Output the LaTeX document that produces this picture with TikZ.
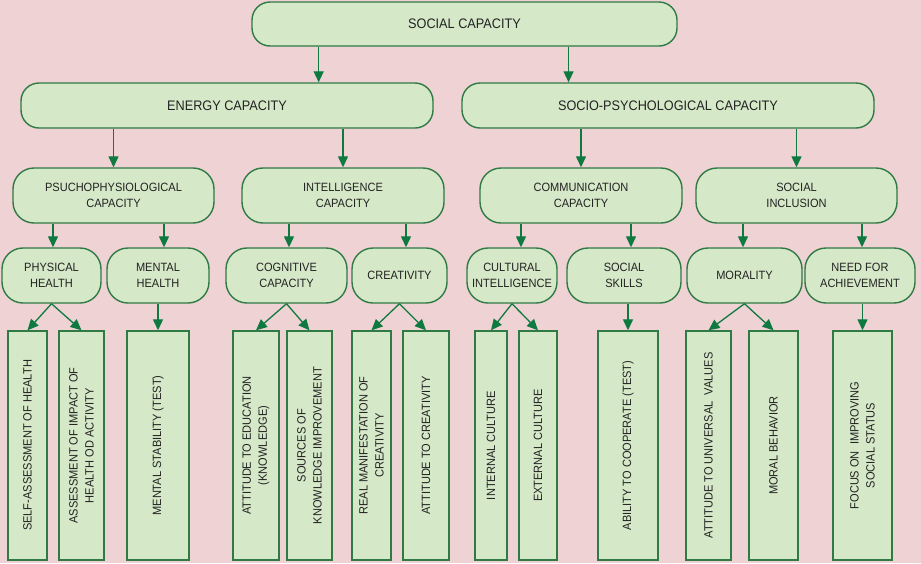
\documentclass[tikz,border=0pt]{standalone}
\usepackage{fontspec}
\setmainfont{Liberation Sans}[FakeStretch=0.92]
\usetikzlibrary{arrows.meta,calc}
\definecolor{bgpink}{HTML}{EFD2D4}
\definecolor{boxgreen}{HTML}{D5E8C8}
\definecolor{edgegreen}{HTML}{2F7A45}
\definecolor{arrowgreen}{HTML}{0E7A40}
\definecolor{textgray}{HTML}{222222}
\tikzset{
  capsule/.style={
    draw=edgegreen,
    fill=boxgreen,
    line width=1.4pt,
    rounded corners=21pt,
    align=center,
    text=textgray,
    inner sep=2pt,
    font=\fontsize{12}{16}\selectfont
  },
  topcapsule/.style={
    capsule,
    rounded corners=18pt,
    font=\fontsize{13.8}{16}\selectfont
  },
  leaf/.style={
    draw=edgegreen,
    fill=boxgreen,
    line width=1.4pt,
    rotate=90,
    align=center,
    text=textgray,
    inner sep=1pt,
    minimum width=229pt,
    font=\fontsize{12}{16}\selectfont
  },
  flowarrow/.style={
    -{Triangle[length=11pt,width=10pt]},
    line width=1.3pt,
    draw=arrowgreen
  }
}
\begin{document}
\begin{tikzpicture}[x=1pt,y=-1pt]
    \fill[bgpink] (0,0) rectangle (921,563);
    \node[topcapsule, minimum width=425pt, minimum height=44pt] (soc) at (464.5,24) {SOCIAL CAPACITY};
    \node[topcapsule, minimum width=412pt, minimum height=45pt] (energy) at (227,105.5) {ENERGY CAPACITY};
    \node[topcapsule, minimum width=412pt, minimum height=45pt] (socpsy) at (668,105.5) {SOCIO-PSYCHOLOGICAL CAPACITY};
    \node[capsule, minimum width=201pt, minimum height=55pt] (psycho) at (113.5,195.5) {PSUCHOPHYSIOLOGICAL\\CAPACITY};
    \node[capsule, minimum width=202pt, minimum height=55pt] (intel) at (343,195.5) {INTELLIGENCE\\CAPACITY};
    \node[capsule, minimum width=202pt, minimum height=55pt] (comm) at (581,195.5) {COMMUNICATION\\CAPACITY};
    \node[capsule, minimum width=201pt, minimum height=55pt] (incl) at (796.5,195.5) {SOCIAL\\INCLUSION};
    \node[capsule, minimum width=99pt, minimum height=55pt] (phys) at (51.5,275.5) {PHYSICAL\\HEALTH};
    \node[capsule, minimum width=102pt, minimum height=55pt] (mental) at (158,275.5) {MENTAL\\HEALTH};
    \node[capsule, minimum width=121pt, minimum height=55pt] (cogn) at (286.5,275.5) {COGNITIVE\\CAPACITY};
    \node[capsule, minimum width=95pt, minimum height=55pt] (creat) at (399.5,275.5) {CREATIVITY};
    \node[capsule, minimum width=90pt, minimum height=55pt] (cult) at (512,275.5) {CULTURAL\\INTELLIGENCE};
    \node[capsule, minimum width=114pt, minimum height=55pt] (skills) at (624,275.5) {SOCIAL\\SKILLS};
    \node[capsule, minimum width=115pt, minimum height=55pt] (moral) at (744.5,275.5) {MORALITY};
    \node[capsule, minimum width=110pt, minimum height=55pt] (need) at (860,275.5) {NEED FOR\\ACHIEVEMENT};
    \foreach \n/\x/\w/\t in {b1/27.5/39/{SELF-ASSESSMENT OF HEALTH},
        b2/81.5/45/{ASSESSMENT OF IMPACT OF\\HEALTH OD ACTIVITY},
        b3/158/62/{MENTAL STABILITY (TEST)},
        b4/256/46/{ATTITUDE TO EDUCATION\\(KNOWLEDGE)},
        b5/309.5/45/{SOURCES OF\\KNOWLEDGE IMPROVEMENT},
        b6/371.5/39/{REAL MANIFESTATION OF\\CREATIVITY},
        b7/426/46/{ATTITUDE TO CREATIVITY},
        b8/491/32/{INTERNAL CULTURE},
        b9/538/38/{EXTERNAL CULTURE},
        b10/628/60/{ABILITY TO COOPERATE (TEST)},
        b11/708.5/45/{ATTITUDE TO UNIVERSAL\ \ VALUES},
        b12/773.5/49/{MORAL BEHAVIOR},
        b13/862.5/59/{FOCUS ON\ \ IMPROVING\\SOCIAL STATUS}}
      \node[leaf, minimum height=\w pt] (\n) at (\x,445.5) {\t};
    \path ($(soc.south west)!.158!(soc.south east)$) coordinate (sl)
          ($(soc.south west)!.744!(soc.south east)$) coordinate (sr);
    \draw[flowarrow] (sl) -- (sl |- energy.north);
    \draw[flowarrow] (sr) -- (sr |- socpsy.north);
    \foreach \a/\b in {energy/psycho,energy/intel,socpsy/comm,socpsy/incl}
      \draw[flowarrow] (\a.south -| \b.north) -- (\b.north);
    \foreach \a/\b/\d in {psycho/phys/1.5,psycho/mental/6,intel/cogn/2.5,intel/creat/6.5,
        comm/cult/9,comm/skills/7,incl/moral/-1.5,incl/need/2}
      \draw[flowarrow] ([xshift=\d pt]\a.south -| \b.north) -- ([xshift=\d pt]\b.north);
    \foreach \a/\b in {mental/b3,skills/b10,need/b13}
      \draw[flowarrow] (\a.south -| \b.east) -- (\b.east);
    \foreach \a/\b in {phys/b1,phys/b2,cogn/b4,cogn/b5,creat/b6,creat/b7,
        cult/b8,cult/b9,moral/b11,moral/b12}
      \draw[flowarrow] (\a.south) -- (\b.east);
  \end{tikzpicture}
\end{document}
